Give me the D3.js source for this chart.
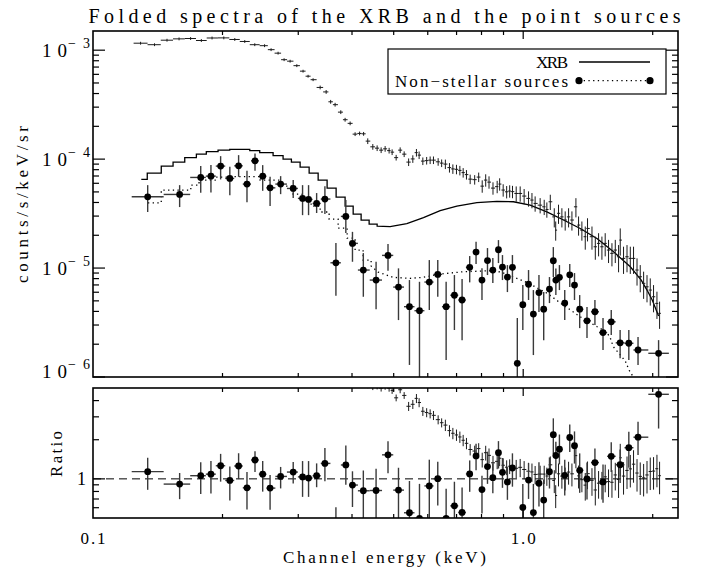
<!DOCTYPE html>
<html>
<head>
<meta charset="utf-8">
<script src="https://cdn.jsdelivr.net/npm/d3@7"></script>
<style>
  body { margin: 0; background: #fff; }
  svg text { font-family: "Liberation Serif", "DejaVu Serif", serif; fill: #000; }
</style>
</head>
<body>
<div id="chart"></div>
<script>
const width = 702;
const height = 572;

// XRB spectrum (channel energy keV, counts/s/keV/sr, fractional error)
const xrbE = [0.129,0.139,0.1486,0.1585,0.1686,0.1786,0.1891,0.2014,0.2136,0.2253,
  0.2377,0.2505,0.2594,0.2693,0.2781,0.2872,0.2977,0.3078,0.3162,0.3248,
  0.3373,0.3483,0.3568,0.3654,0.3767,0.3855,0.396,0.4067,0.4166,0.4256,
  0.4352,0.4471,0.4576,0.4675,0.4776,0.4879,0.4958,0.5066,0.5176,0.5288,
  0.5416,0.5539,0.5647,0.5729,0.5844,0.5965,0.6077,0.6186,0.6343,0.6463,
  0.6593,0.6739,0.6863,0.6997,0.7125,0.7252,0.7381,0.7529,0.7713,0.788,
  0.803,0.8181,0.8328,0.8507,0.8699,0.8816,0.8984,0.9153,0.9302,0.9443,
  0.9632,0.984,1.005,1.029,1.048,1.066,1.095,1.119,1.135,1.156,
  1.181,1.19,1.208,1.23,1.252,1.275,1.298,1.326,1.345,1.369,
  1.394,1.411,1.445,1.471,1.497,1.524,1.551,1.579,1.608,1.637,
  1.666,1.681,1.711,1.743,1.774,1.805,1.839,1.871,1.905,1.94,
  1.974,2.009,2.046,2.075];
const xrbF = [1.159e-3,1.123e-3,1.235e-3,1.270e-3,1.280e-3,1.227e-3,1.294e-3,1.297e-3,1.254e-3,1.202e-3,
  1.123e-3,1.100e-3,1.011e-3,9.39e-4,8.18e-4,7.93e-4,7.21e-4,6.42e-4,5.77e-4,5.36e-4,
  4.55e-4,4.14e-4,3.36e-4,3.16e-4,2.70e-4,2.30e-4,2.13e-4,1.696e-4,1.721e-4,1.707e-4,
  1.463e-4,1.297e-4,1.261e-4,1.209e-4,1.243e-4,1.197e-4,1.159e-4,1.032e-4,1.209e-4,1.111e-4,
  9.39e-5,1.004e-4,1.147e-4,1.088e-4,9.59e-5,9.69e-5,9.79e-5,9.79e-5,9.45e-5,9.19e-5,
  9.00e-5,8.36e-5,8.13e-5,8.06e-5,7.88e-5,7.52e-5,7.21e-5,6.55e-5,6.48e-5,6.84e-5,
  5.65e-5,6.42e-5,6.15e-5,5.42e-5,5.59e-5,5.90e-5,5.20e-5,5.01e-5,5.09e-5,5.03e-5,
  4.84e-5,4.84e-5,4.58e-5,4.36e-5,4.21e-5,3.92e-5,3.78e-5,3.65e-5,3.45e-5,4.06e-5,
  2.95e-5,2.23e-5,3.18e-5,2.95e-5,2.76e-5,2.95e-5,2.76e-5,3.65e-5,2.48e-5,2.23e-5,
  1.94e-5,2.31e-5,1.94e-5,1.568e-5,1.685e-5,1.568e-5,1.685e-5,1.463e-5,1.364e-5,1.463e-5,
  1.270e-5,1.806e-5,1.227e-5,1.270e-5,1.227e-5,1.227e-5,9.59e-6,8.32e-6,7.24e-6,6.73e-6,
  6.28e-6,5.45e-6,4.74e-6,3.84e-6];
const xrbErr = [0.03,0.03,0.03,0.03,0.03,0.03,0.03,0.03,0.03,0.03,
  0.03,0.03,0.03,0.03,0.03,0.03,0.03,0.03,0.03,0.03,
  0.04,0.04,0.04,0.04,0.04,0.04,0.04,0.04,0.04,0.04,
  0.06,0.06,0.06,0.06,0.06,0.06,0.06,0.06,0.06,0.06,
  0.08,0.08,0.08,0.08,0.08,0.08,0.08,0.08,0.08,0.08,
  0.10,0.10,0.10,0.10,0.10,0.10,0.10,0.10,0.10,0.10,
  0.13,0.13,0.13,0.13,0.13,0.13,0.13,0.13,0.13,0.13,
  0.16,0.16,0.16,0.16,0.16,0.16,0.16,0.16,0.16,0.16,
  0.20,0.20,0.20,0.20,0.20,0.20,0.20,0.20,0.20,0.20,
  0.24,0.24,0.24,0.24,0.24,0.24,0.24,0.24,0.24,0.24,
  0.28,0.28,0.28,0.28,0.28,0.28,0.28,0.28,0.28,0.28,
  0.28,0.28,0.28,0.28];

// Non-stellar sources (value, upper and lower end of error bar)
const nsE = [0.134,0.159,0.178,0.188,0.198,0.208,0.218,0.228,0.238,0.248,
  0.258,0.273,0.292,0.307,0.317,0.331,0.346,0.367,0.387,0.401,
  0.425,0.455,0.485,0.513,0.544,0.574,0.605,0.633,0.662,0.692,
  0.721,0.751,0.777,0.802,0.826,0.850,0.876,0.895,0.919,0.944,
  0.969,0.998,1.029,1.056,1.088,1.116,1.151,1.175,1.191,1.214,
  1.249,1.283,1.316,1.353,1.407,1.468,1.533,1.602,1.680,1.760,
  1.849,2.064];
const nsF = [4.51e-5,4.74e-5,6.79e-5,6.98e-5,8.63e-5,6.65e-5,8.68e-5,5.90e-5,9.65e-5,6.98e-5,
  5.45e-5,5.90e-5,5.38e-5,4.36e-5,4.27e-5,3.92e-5,4.30e-5,1.118e-5,2.98e-5,1.685e-5,
  9.59e-6,7.76e-6,1.307e-5,6.69e-6,4.42e-6,4.06e-6,7.44e-6,8.75e-6,4.42e-6,5.63e-6,
  5.09e-6,1.015e-5,1.402e-5,7.76e-6,1.172e-5,9.59e-6,1.472e-5,1.021e-5,8.27e-6,1.015e-5,
  1.336e-6,4.61e-6,7.10e-6,3.78e-6,5.96e-6,4.19e-6,6.42e-6,1.167e-5,7.76e-6,8.22e-6,
  4.77e-6,8.66e-6,6.98e-6,4.19e-6,3.28e-6,3.97e-6,2.56e-6,3.21e-6,2.06e-6,2.04e-6,
  1.77e-6,1.65e-6];
const nsHi = [5.77e-5,5.77e-5,8.63e-5,8.81e-5,1.065e-4,8.50e-5,1.088e-4,7.81e-5,1.128e-4,8.81e-5,
  6.88e-5,6.98e-5,6.42e-5,5.77e-5,5.77e-5,4.88e-5,5.65e-5,1.696e-5,4.21e-5,2.15e-5,
  1.373e-5,1.142e-5,1.661e-5,9.94e-6,7.76e-6,7.48e-6,1.184e-5,1.184e-5,7.48e-6,8.63e-6,
  7.93e-6,1.289e-5,1.743e-5,9.94e-6,1.526e-5,1.235e-5,1.806e-5,1.316e-5,1.065e-5,1.316e-5,
  3.48e-6,6.98e-6,9.59e-6,6.28e-6,8.63e-6,6.02e-6,8.27e-6,1.558e-5,9.9e-6,1.065e-5,
  6.28e-6,1.088e-5,9.00e-6,5.65e-6,4.39e-6,5.09e-6,3.48e-6,4.12e-6,2.70e-6,2.70e-6,
  2.33e-6,2.18e-6];
const nsLo = [3.27e-5,3.63e-5,4.91e-5,4.95e-5,6.51e-5,4.67e-5,6.88e-5,4.01e-5,7.81e-5,5.12e-5,
  3.71e-5,4.77e-5,4.39e-5,3.06e-5,3.06e-5,3.20e-5,3.13e-5,5.57e-6,2.10e-5,1.142e-5,
  5.45e-6,4.18e-6,9.45e-6,3.33e-6,1.29e-6,0.8e-6,4.12e-6,5.45e-6,1.43e-6,2.70e-6,
  2.18e-6,7.39e-6,1.088e-5,5.09e-6,8.63e-6,7.29e-6,1.111e-5,7.76e-6,6.02e-6,7.29e-6,
  0.8e-6,2.70e-6,5.09e-6,1.59e-6,3.95e-6,2.18e-6,4.77e-6,8.27e-6,5.65e-6,6.28e-6,
  3.33e-6,6.69e-6,5.09e-6,2.81e-6,2.28e-6,3.00e-6,1.77e-6,2.43e-6,1.49e-6,1.43e-6,
  1.29e-6,0.9e-6];

// folded XRB model: histogram bins (left edges + last right edge), then smooth part
const xrbModelEdges = [0.1295,0.1337,0.1441,0.1535,0.1634,0.1739,0.1834,0.1953,0.2079,0.2193,
  0.2314,0.2441,0.2622,0.2766,0.2892,0.3030,0.3180,0.3337,0.3501,0.3674,0.3855,0.4025,0.4200,0.4384,0.4576];
const xrbModelStep = [6.51e-5,7.44e-5,8.63e-5,9.39e-5,1.032e-4,1.111e-4,1.172e-4,1.209e-4,1.227e-4,1.227e-4,
  1.197e-4,1.147e-4,1.077e-4,1.0e-4,9.39e-5,8.45e-5,7.44e-5,6.42e-5,5.42e-5,4.48e-5,3.71e-5,3.13e-5,2.76e-5,2.53e-5];
const xrbModelE = [0.4576,0.4906,0.5364,0.5864,0.6412,0.7011,0.7804,0.8685,0.9493,1.038,
  1.135,1.241,1.357,1.484,1.622,1.774,1.881,1.940,1.995,2.064];
const xrbModelF = [2.43e-5,2.40e-5,2.56e-5,2.91e-5,3.37e-5,3.71e-5,3.99e-5,4.10e-5,4.06e-5,3.78e-5,
  3.28e-5,2.76e-5,2.31e-5,1.87e-5,1.41e-5,1.028e-5,7.76e-6,6.28e-6,5.09e-6,3.63e-6];

// folded model of the non-stellar sources
const nsModelEdges = [0.1342,0.1441,0.1688,0.1764,0.1932,0.2116,0.2446,0.2722,0.2918,0.3062,
  0.3214,0.3373,0.3539,0.3714,0.3897,0.4067,0.4245,0.4431];
const nsModelStep = [3.97e-5,5.20e-5,5.77e-5,6.42e-5,6.84e-5,6.91e-5,6.42e-5,5.65e-5,4.77e-5,4.21e-5,
  3.71e-5,3.27e-5,2.81e-5,2.33e-5,1.88e-5,1.463e-5,1.184e-5];
const nsModelE = [0.4431,0.460,0.4985,0.546,0.5853,0.6412,0.7252,0.838,0.8888,0.9478,
  1.027,1.137,1.239,1.357,1.486,1.56,1.593,1.619,1.681,1.727,1.764,1.803,1.851,1.974,2.083];
const nsModelF = [1.043e-5,9.19e-6,8.22e-6,8.05e-6,8.22e-6,8.81e-6,9.25e-6,9.45e-6,9.19e-6,8.32e-6,
  7.29e-6,5.86e-6,4.58e-6,3.57e-6,2.89e-6,2.6e-6,2.3e-6,1.9e-6,1.6e-6,1.4e-6,1.15e-6,1.0e-6,8.4e-7,5.5e-7,3.4e-7];

// axis ticks
const xMinorTicks = [0.2,0.3,0.4,0.5,0.6,0.7,0.8,0.9,2];
const xMajorTicks = [1];
const xTickLabels = [[0.1, '0.1'], [1, '1.0']];
const yMajorTicks = [1e-6,1e-5,1e-4,1e-3];
const yTickExp = ['−6','−5','−4','−3'];
const ratioMajorTicks = [1];
const ratioMinorTicks = [0.6,0.7,0.8,0.9,2,3,4];

const serif = '"Liberation Serif", "DejaVu Serif", "Times New Roman", serif';

// panel geometry
const left = 93, right = 678;
const top1 = 31, bottom1 = 377, top2 = 388, bottom2 = 518;

const svg = d3.select('#chart').append('svg')
  .attr('width', width).attr('height', height)
  .attr('font-family', serif);

const x = d3.scaleLog().domain([0.1, 2.29]).range([left, right]);
const y = d3.scaleLog().domain([1e-6, 1.5e-3]).range([bottom1, top1]);
const yr = d3.scaleLog().domain([0.5, 5]).range([bottom2, top2]);

const defs = svg.append('defs');
defs.append('clipPath').attr('id', 'clipTop').append('rect')
  .attr('x', left).attr('y', top1).attr('width', right - left).attr('height', bottom1 - top1);
defs.append('clipPath').attr('id', 'clipBot').append('rect')
  .attr('x', left).attr('y', top2).attr('width', right - left).attr('height', bottom2 - top2);

function edgesOf(E) {
  return E.map((e, i) => {
    const hi = i < E.length - 1 ? Math.sqrt(e * E[i + 1]) : e * e / Math.sqrt(E[i - 1] * e);
    const lo = i > 0 ? Math.sqrt(E[i - 1] * e) : e * e / Math.sqrt(e * E[i + 1]);
    return [lo, hi];
  });
}

function modelAt(e, edges, steps, sE, sF) {
  if (e < edges[edges.length - 1]) {
    const i = d3.bisectRight(edges, e) - 1;
    return steps[Math.max(0, Math.min(i, steps.length - 1))];
  }
  const j = d3.bisectRight(sE, e);
  if (j <= 0) return sF[0];
  if (j >= sE.length) return sF[sF.length - 1];
  const t = Math.log(e / sE[j - 1]) / Math.log(sE[j] / sE[j - 1]);
  return Math.exp(Math.log(sF[j - 1]) + t * Math.log(sF[j] / sF[j - 1]));
}

function modelPoints(edges, steps, sE, sF) {
  const pts = [];
  steps.forEach((v, i) => { pts.push([edges[i], v]); pts.push([edges[i + 1], v]); });
  sE.forEach((e, i) => pts.push([e, sF[i]]));
  return pts;
}

const xrbEdges = edgesOf(xrbE);
const nsEdges = edgesOf(nsE);

// ---------- top panel ----------
const gTop = svg.append('g').attr('clip-path', 'url(#clipTop)');

const lineTop = d3.line().x(d => x(d[0])).y(d => y(d[1]));
gTop.append('path')
  .attr('d', lineTop(modelPoints(xrbModelEdges, xrbModelStep, xrbModelE, xrbModelF)))
  .attr('fill', 'none').attr('stroke', '#000').attr('stroke-width', 1.3);
gTop.append('path')
  .attr('d', lineTop(modelPoints(nsModelEdges, nsModelStep, nsModelE, nsModelF)))
  .attr('fill', 'none').attr('stroke', '#000').attr('stroke-width', 1.3)
  .attr('stroke-dasharray', '1.3,3.4');

function drawCrosses(g, ys, vals, lo, hi) {
  const grp = g.append('g').attr('stroke', '#1a1a1a').attr('stroke-width', 1);
  xrbE.forEach((e, i) => {
    grp.append('line').attr('x1', x(xrbEdges[i][0])).attr('x2', x(xrbEdges[i][1]))
      .attr('y1', ys(vals[i])).attr('y2', ys(vals[i]));
    grp.append('line').attr('x1', x(e)).attr('x2', x(e))
      .attr('y1', ys(lo[i])).attr('y2', ys(hi[i]));
  });
}

function drawDots(g, ys, vals, lo, hi) {
  const grp = g.append('g');
  nsE.forEach((e, i) => {
    grp.append('line').attr('x1', x(nsEdges[i][0])).attr('x2', x(nsEdges[i][1]))
      .attr('y1', ys(vals[i])).attr('y2', ys(vals[i]))
      .attr('stroke', '#3a3a3a').attr('stroke-width', 1.4);
    grp.append('line').attr('x1', x(e)).attr('x2', x(e))
      .attr('y1', ys(Math.max(lo[i], 1e-9))).attr('y2', ys(hi[i]))
      .attr('stroke', '#3a3a3a').attr('stroke-width', 1.4);
  });
  grp.selectAll('circle').data(nsE).join('circle')
    .attr('cx', d => x(d)).attr('cy', (d, i) => ys(vals[i]))
    .attr('r', 3.4).attr('fill', '#000');
}

drawCrosses(gTop, y, xrbF,
  xrbF.map((f, i) => f * (1 - xrbErr[i])), xrbF.map((f, i) => f * (1 + xrbErr[i])));
drawDots(gTop, y, nsF, nsLo, nsHi);

// ---------- ratio panel ----------
const gBot = svg.append('g').attr('clip-path', 'url(#clipBot)');
gBot.append('line')
  .attr('x1', left).attr('x2', right).attr('y1', yr(1)).attr('y2', yr(1))
  .attr('stroke', '#000').attr('stroke-width', 1).attr('stroke-dasharray', '8,5');

const xrbM = xrbE.map(e => modelAt(e, xrbModelEdges, xrbModelStep, xrbModelE, xrbModelF));
const xrbR = xrbF.map((f, i) => f / xrbM[i]);
drawCrosses(gBot, yr, xrbR,
  xrbR.map((r, i) => r * (1 - xrbErr[i])), xrbR.map((r, i) => r * (1 + xrbErr[i])));

const nsM = nsE.map(e => modelAt(e, nsModelEdges, nsModelStep, nsModelE, nsModelF));
drawDots(gBot, yr, nsF.map((f, i) => f / nsM[i]),
  nsLo.map((f, i) => f / nsM[i]), nsHi.map((f, i) => f / nsM[i]));

// ---------- frames and ticks ----------
function frame(y0, y1, ys, majors, minors, yMajLen, yMinLen) {
  const g = svg.append('g').attr('stroke', '#000').attr('fill', 'none');
  g.append('rect').attr('x', left).attr('y', y0).attr('width', right - left).attr('height', y1 - y0)
    .attr('stroke-width', 1.6);
  const tk = g.append('g').attr('stroke-width', 1.2);
  xMinorTicks.concat(xMajorTicks).forEach(v => {
    const len = xMajorTicks.includes(v) ? 8 : 4;
    tk.append('line').attr('x1', x(v)).attr('x2', x(v)).attr('y1', y1).attr('y2', y1 - len);
    tk.append('line').attr('x1', x(v)).attr('x2', x(v)).attr('y1', y0).attr('y2', y0 + len);
  });
  majors.concat(minors).forEach(v => {
    const len = majors.includes(v) ? yMajLen : yMinLen;
    tk.append('line').attr('x1', left).attr('x2', left + len).attr('y1', ys(v)).attr('y2', ys(v));
    tk.append('line').attr('x1', right).attr('x2', right - len).attr('y1', ys(v)).attr('y2', ys(v));
  });
}

const yMinorTicks = [];
yMajorTicks.forEach(d => { for (let m = 2; m <= 9; m++) if (d * m < 1.5e-3) yMinorTicks.push(d * m); });
frame(top1, bottom1, y, yMajorTicks, yMinorTicks, 12, 6);
frame(top2, bottom2, yr, ratioMajorTicks, ratioMinorTicks, 12, 6);

// ---------- labels ----------
function label(sel) { return sel.append('text').attr('font-family', serif); }

yMajorTicks.forEach((v, i) => {
  const cy = Math.min(y(v), bottom1 - 6);
  label(svg).attr('x', 42).attr('y', cy + 7)
    .attr('font-size', 19).attr('textLength', 25).attr('lengthAdjust', 'spacing').text('10');
  label(svg).attr('x', 68).attr('y', cy - 2)
    .attr('font-size', 14).attr('textLength', 22).attr('lengthAdjust', 'spacing').text(yTickExp[i]);
});
ratioMajorTicks.forEach(v => {
  label(svg).attr('x', 86).attr('y', yr(v) + 6)
    .attr('text-anchor', 'end').attr('font-size', 18).text(String(v));
});
xTickLabels.forEach(([v, t]) => {
  label(svg).attr('x', x(v)).attr('y', 544)
    .attr('text-anchor', 'middle').attr('font-size', 17)
    .attr('textLength', 25).attr('lengthAdjust', 'spacing').text(t);
});

label(svg).attr('x', 384.5).attr('y', 23)
  .attr('text-anchor', 'middle').attr('font-size', 20)
  .attr('textLength', 592).attr('lengthAdjust', 'spacing')
  .text('Folded spectra of the XRB and the point sources');

label(svg).attr('x', 384.5).attr('y', 563)
  .attr('text-anchor', 'middle').attr('font-size', 17)
  .attr('textLength', 203).attr('lengthAdjust', 'spacing')
  .text('Channel energy (keV)');

label(svg).attr('transform', 'translate(28,204.5) rotate(-90)')
  .attr('text-anchor', 'middle').attr('font-size', 17)
  .attr('textLength', 157).attr('lengthAdjust', 'spacing')
  .text('counts/s/keV/sr');

label(svg).attr('transform', 'translate(62,454) rotate(-90)')
  .attr('text-anchor', 'middle').attr('font-size', 17)
  .attr('textLength', 46).attr('lengthAdjust', 'spacing')
  .text('Ratio');

// ---------- legend ----------
const lg = svg.append('g');
lg.append('rect').attr('x', 388).attr('y', 49).attr('width', 278).attr('height', 45)
  .attr('fill', '#fff').attr('stroke', '#000').attr('stroke-width', 1.2);
label(lg).attr('x', 568).attr('y', 68).attr('text-anchor', 'end')
  .attr('font-size', 17).attr('textLength', 32).attr('lengthAdjust', 'spacing').text('XRB');
lg.append('line').attr('x1', 579).attr('x2', 650).attr('y1', 62).attr('y2', 62)
  .attr('stroke', '#000').attr('stroke-width', 1.3);
label(lg).attr('x', 568).attr('y', 86.5).attr('text-anchor', 'end')
  .attr('font-size', 17).attr('textLength', 173).attr('lengthAdjust', 'spacing')
  .text('Non−stellar sources');
lg.append('line').attr('x1', 579).attr('x2', 650).attr('y1', 80.7).attr('y2', 80.7)
  .attr('stroke', '#000').attr('stroke-width', 1.3).attr('stroke-dasharray', '1.3,3.4');
lg.selectAll('circle.lg').data([579, 650]).join('circle')
  .attr('cx', d => d).attr('cy', 80.7).attr('r', 3.6).attr('fill', '#000');
</script>
</body>
</html>
